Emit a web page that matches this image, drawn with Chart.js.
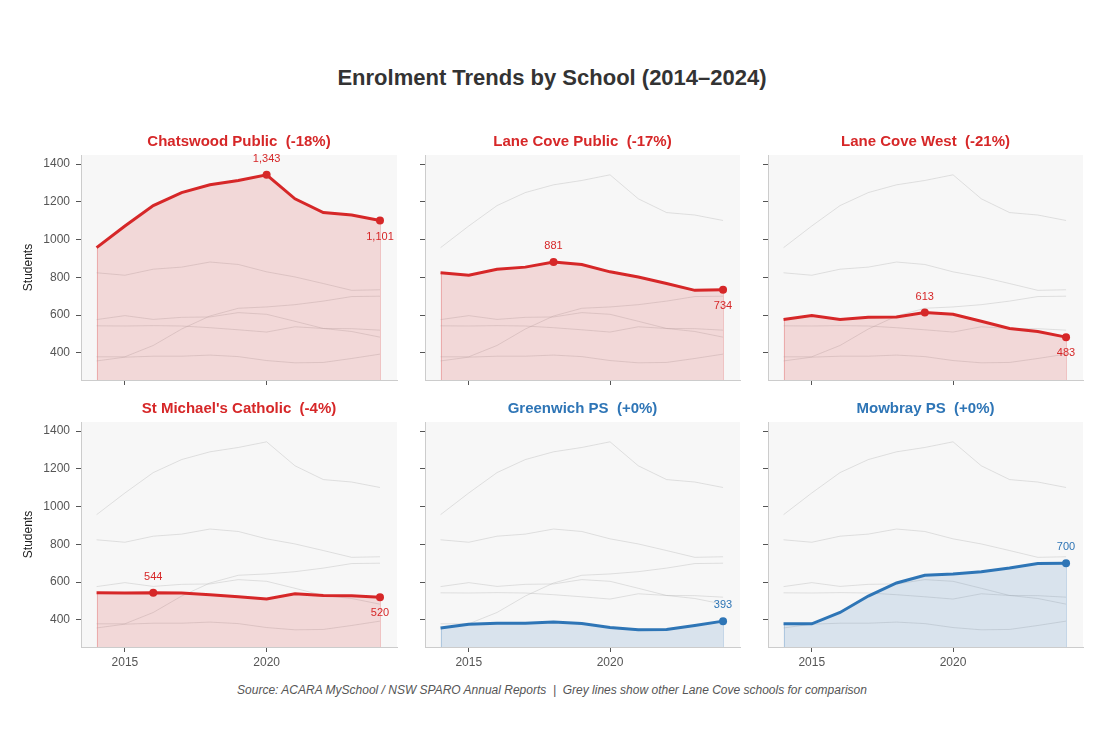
<!DOCTYPE html>
<html>
<head>
<meta charset="utf-8">
<script src="https://cdn.jsdelivr.net/npm/chart.js@4.4.1/dist/chart.umd.min.js"></script>
<style>
  html, body { margin: 0; padding: 0; background: #fff; }
  body { width: 1104px; height: 750px; position: relative; overflow: hidden; font-family: "Liberation Sans", Arial, sans-serif; }
  canvas { position: absolute; }
  #title { position: absolute; left: 0; width: 1104px; top: 65px; text-align: center; font-size: 22px; font-weight: bold; color: #333; }
  #footer { position: absolute; left: 0; width: 1104px; top: 683px; text-align: center; font-size: 12px; font-style: italic; color: #555; }
</style>
</head>
<body>
<div id="title">Enrolment Trends by School (2014–2024)</div>
<div id="footer">Source: ACARA MySchool / NSW SPARO Annual Reports &nbsp;|&nbsp; Grey lines show other Lane Cove schools for comparison</div>
<script>
const years = [2014, 2015, 2016, 2017, 2018, 2019, 2020, 2021, 2022, 2023, 2024];
const schools = ['Chatswood Public', 'Lane Cove Public', 'Lane Cove West', "St Michael's Catholic", 'Greenwich PS', 'Mowbray PS'];

const chatswood      = [957, 1072, 1180, 1249, 1290, 1313, 1343, 1216, 1143, 1130, 1101];
const laneCovePublic = [824, 811, 843, 854, 881, 868, 829, 802, 767, 731, 734];
const laneCoveWest   = [576, 597, 577, 588, 590, 613, 604, 567, 529, 513, 483];
const stMichaels     = [543, 542, 544, 542, 533, 522, 510, 538, 529, 528, 520];
const greenwich      = [357, 377, 382, 382, 388, 380, 359, 347, 349, 370, 393];
const mowbray        = [379, 379, 439, 526, 595, 636, 643, 655, 674, 698, 700];

const series = [chatswood, laneCovePublic, laneCoveWest, stMichaels, greenwich, mowbray];
const xTicks = [2015, 2020];
const yTicks = [400, 600, 800, 1000, 1200, 1400];

const RED = '#d62728', BLUE = '#2e75b6';
const FONT = '"Liberation Sans", Arial, sans-serif';

// panel layout (plot area in page pixels)
const colLeft = [81, 425, 768];
const colWidth = [316, 315, 315];
const rowTop = [155, 422];
const plotH = 225;
const padL = 60, padT = 35, padR = 20, padB = 28;

function fmt(v) { return v.toLocaleString('en-US'); }

const panelPlugin = {
  id: 'panel',
  beforeDraw(chart) {
    const {ctx, chartArea: a} = chart;
    ctx.save();
    ctx.fillStyle = '#f7f7f7';
    ctx.fillRect(a.left, a.top, a.right - a.left, a.bottom - a.top);
    ctx.restore();
  },
  beforeDatasetsDraw(chart, args, opts) {
    // edges of the filled area, like fill_between's outline
    const {ctx, chartArea: a} = chart;
    const pts = chart.getDatasetMeta(0).data;
    ctx.save();
    ctx.strokeStyle = opts.edge;
    ctx.lineWidth = 1;
    [pts[0], pts[pts.length - 1]].forEach(p => {
      ctx.beginPath();
      ctx.moveTo(Math.round(p.x) + 0.5, p.y);
      ctx.lineTo(Math.round(p.x) + 0.5, a.bottom);
      ctx.stroke();
    });
    ctx.restore();
  },
  afterDraw(chart, args, opts) {
    const {ctx, chartArea: a} = chart;
    ctx.save();
    ctx.font = 'bold 15px ' + FONT;
    ctx.fillStyle = opts.color;
    ctx.textAlign = 'center';
    ctx.textBaseline = 'middle';
    ctx.fillText(opts.title, (a.left + a.right) / 2, a.top - 13);

    const meta = chart.getDatasetMeta(0);
    const data = chart.data.datasets[0].data;
    ctx.font = '11px ' + FONT;
    const pk = opts.peak, last = data.length - 1;
    const pp = meta.data[pk];
    ctx.fillText(fmt(data[pk].y), pp.x, pp.y - 16);
    if (last !== pk) {
      const lp = meta.data[last];
      ctx.fillText(fmt(data[last].y), lp.x, lp.y + 16);
    }
    ctx.restore();
  }
};

series.forEach((vals, i) => {
  const row = Math.floor(i / 3), col = i % 3;
  const canvas = document.createElement('canvas');
  const w = padL + colWidth[col] + padR, h = padT + plotH + padB;
  canvas.width = w; canvas.height = h;
  canvas.style.width = w + 'px'; canvas.style.height = h + 'px';
  canvas.style.left = (colLeft[col] - padL) + 'px';
  canvas.style.top = (rowTop[row] - padT) + 'px';
  document.body.appendChild(canvas);

  const peakVal = Math.max(...vals);
  const peak = vals.lastIndexOf(peakVal);
  const last = vals.length - 1;
  const pct = Math.round((vals[last] - peakVal) / peakVal * 100);
  const color = pct < 0 ? RED : BLUE;
  const fillColor = pct < 0 ? 'rgba(214,39,40,0.15)' : 'rgba(46,117,182,0.15)';
  const edge = pct < 0 ? 'rgba(214,39,40,0.25)' : 'rgba(46,117,182,0.25)';
  const title = schools[i] + '  (' + (pct < 0 ? '' : '+') + pct + '%)';

  const datasets = [{
    data: vals.map((v, k) => ({x: years[k], y: v})),
    borderColor: color,
    borderWidth: 3,
    backgroundColor: fillColor,
    fill: 'start',
    tension: 0,
    pointRadius: ctx => (ctx.dataIndex === peak || ctx.dataIndex === last) ? 4 : 0,
    pointBackgroundColor: color,
    pointBorderWidth: 0
  }];
  series.forEach((other, j) => {
    if (j === i) return;
    datasets.push({
      data: other.map((v, k) => ({x: years[k], y: v})),
      borderColor: 'rgba(175,175,175,0.35)',
      borderWidth: 1,
      pointRadius: 0,
      fill: false,
      tension: 0
    });
  });

  new Chart(canvas, {
    type: 'line',
    data: {datasets},
    options: {
      responsive: false,
      animation: false,
      devicePixelRatio: 1,
      layout: {padding: {top: padT, right: padR, left: 0, bottom: 0}},
      plugins: {
        legend: {display: false},
        tooltip: {enabled: false},
        panel: {title, color, peak, edge}
      },
      scales: {
        x: {
          type: 'linear',
          min: 2013.45, max: 2024.6,
          afterBuildTicks: s => { s.ticks = xTicks.map(v => ({value: v})); },
          afterFit: s => { s.height = padB; },
          grid: {drawOnChartArea: false, drawTicks: true, tickLength: 5, tickColor: '#555'},
          border: {display: true, color: '#ccc'},
          ticks: {
            font: {size: 12, family: FONT}, color: '#555', padding: 3,
            maxRotation: 0,
            callback: v => row === 1 ? String(v) : ''
          }
        },
        y: {
          min: 256, max: 1448,
          afterBuildTicks: s => { s.ticks = yTicks.map(v => ({value: v})); },
          afterFit: s => { s.width = padL; },
          grid: {drawOnChartArea: false, drawTicks: true, tickLength: 5, tickColor: '#555'},
          border: {display: true, color: '#ccc'},
          title: {display: col === 0, text: 'Students', font: {size: 12, family: FONT}, color: '#222', padding: {top: 0, bottom: 0}},
          ticks: {
            font: {size: 12, family: FONT}, color: '#555', padding: 6,
            callback: v => col === 0 ? String(v) : ''
          }
        }
      }
    },
    plugins: [panelPlugin]
  });
});
</script>
</body>
</html>
